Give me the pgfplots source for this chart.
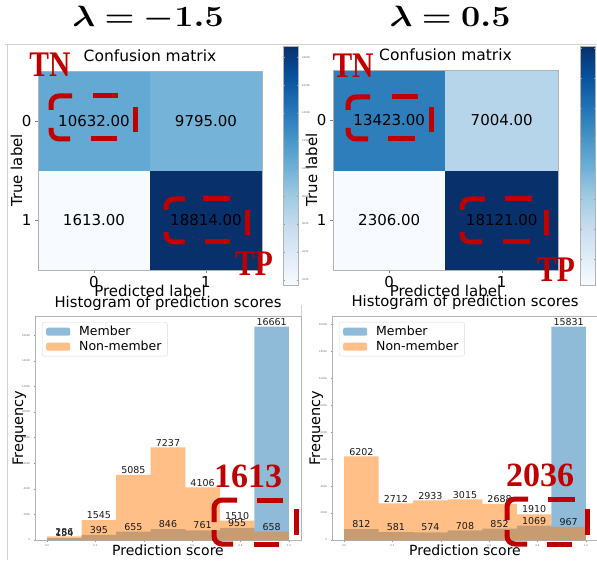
\documentclass[border=0pt]{standalone}
\usepackage{pgfplots}
\pgfplotsset{compat=1.18}
\usepackage{bm}
\usepackage{fontspec}
\setmainfont{DejaVu Sans}
\newfontfamily\annotfont{Liberation Serif}
\definecolor{annred}{RGB}{192,0,0}
\definecolor{mblue}{RGB}{31,119,180}
\definecolor{norange}{RGB}{255,127,14}
\pgfplotsset{
  colormap={mplblues}{rgb255=(247,251,255) rgb255=(222,235,247) rgb255=(198,219,239) rgb255=(158,202,225) rgb255=(107,174,214) rgb255=(66,146,198) rgb255=(33,113,181) rgb255=(8,81,156) rgb255=(8,48,107)},
  cm/.style={
    scale only axis, anchor=south west,
    xmin=-0.5, xmax=1.5, ymin=-0.5, ymax=1.5,
    enlargelimits=false, axis on top,
    xtick={0,1}, ytick={0,1}, xticklabels={0,1}, yticklabels={1,0},
    tick pos=left, tick align=outside, major tick length=3pt,
    tick style={black!50, line width=0.4pt},
    axis line style={black!30, line width=0.8pt},
    ticklabel style={font=\fontsize{15}{15}\selectfont},
    title={Confusion matrix},
    title style={font=\fontsize{15.5}{15.5}\selectfont, at={(0.5,1)}, anchor=base, yshift=3pt},
    xlabel={Predicted label},
    xlabel style={font=\fontsize{15}{15}\selectfont, at={(0.5,0)}, anchor=base, yshift=-27pt},
    ylabel={True label},
    ylabel style={font=\fontsize{15}{15}\selectfont, at={([xshift=-16pt]axis description cs:0,0.5)}, anchor=base},
    colormap name=mplblues,
    colorbar,
  },
  cmbar/.style 2 args={colorbar style={at={(parent axis.north east)}, anchor=north west,
    xshift=#1, yshift=#2, scale only axis, width=15pt, height=239pt,
    ytick={2000,4000,...,18000}, scaled y ticks=false,
    /pgf/number format/set thousands separator={},
    /pgf/number format/assume math mode=true,
    yticklabel style={font=\fontsize{2.5}{3}\selectfont, text=black!60},
    major tick length=1.5pt, tick style={black!40}, axis line style={black!30}}},
  cellnum/.style={only marks, mark=none, point meta=explicit symbolic, nodes near coords,
    nodes near coords style={anchor=center, font=\fontsize{15}{15}\selectfont, text=black}},
  hist/.style={
    scale only axis, anchor=south west, width=266pt, height=224pt,
    xmin=-0.05, xmax=1.05, ymin=0,
    xtick={0,0.2,0.4,0.6,0.8,1.0}, ytick={0,2000,...,16000},
    scaled ticks=false,
    /pgf/number format/assume math mode=true,
    xticklabel style={/pgf/number format/fixed, /pgf/number format/fixed zerofill, /pgf/number format/precision=1},
    /pgf/number format/set thousands separator={},
    ticklabel style={font=\fontsize{2.5}{3}\selectfont, text=black!60},
    tick pos=left, tick align=outside, major tick length=1.5pt, tick style={black!40},
    axis line style={black!30, line width=0.6pt},
    title={Histogram of prediction scores},
    title style={font=\fontsize{14.8}{14.8}\selectfont, at={(0.5,1)}, anchor=base, yshift=3pt},
    xlabel={Prediction score},
    xlabel style={font=\fontsize{14}{14}\selectfont, at={(0.5,0)}, anchor=base, yshift=-15pt},
    ylabel={Frequency},
    ylabel style={font=\fontsize{14.5}{14.5}\selectfont, at={([xshift=-12pt]axis description cs:0,0.5)}, anchor=base},
    legend cell align=left,
    legend style={at={(0,1)}, anchor=north west, xshift=7pt, yshift=-6pt, draw=black!15,
      rounded corners=2pt, font=\fontsize{12.5}{13}\selectfont, inner xsep=4pt, inner ysep=2pt, row sep=0pt},
  },
  barlab/.style={only marks, mark=none, forget plot, point meta=explicit symbolic, nodes near coords,
    nodes near coords style={anchor=south, font=\fontsize{9.5}{9.5}\selectfont, inner sep=1pt, text=black!90}},
}
\newcommand{\annot}[1]{{\annotfont\bfseries\fontsize{36}{36}\selectfont #1}}
\newcommand{\annotnum}[1]{{\annotfont\bfseries\fontsize{34}{34}\selectfont #1}}
\newcommand{\lam}[1]{{\fontsize{24.88}{30}\selectfont $\bm{\lambda = #1}$}}
\newcommand{\legpatch}[1]{\addlegendimage{legend image code/.code={\path[draw=none, fill=none] (0pt,0pt) -- (31pt,0pt); \path[draw=none, fill=#1!50!white] (0pt,-4pt) rectangle (24pt,4pt);}}}
\begin{document}
\begin{tikzpicture}
\path[use as bounding box] (0,0) rectangle (597pt,560pt);
% panel frames and titles
\draw[black!18, line width=0.8pt] (5pt,516pt) -- (597pt,516pt);
\draw[black!18, line width=0.8pt] (7pt,516pt) -- (7pt,0pt);
\draw[black!18, line width=0.8pt] (301pt,255pt) -- (301pt,20pt);
\node[anchor=base, xscale=1.37, yscale=1.18] at (148pt,533pt) {\lam{-1.5}};
\node[anchor=base, xscale=1.37, yscale=1.18] at (450pt,533pt) {\lam{0.5}};

% ---------- left confusion matrix ----------
\begin{axis}[cm, at={(38pt,290pt)}, width=224pt, height=199pt, cmbar={13pt}{25pt}]
\addplot[matrix plot*, mesh/cols=2, mesh/rows=2, point meta=explicit] table[meta=c] {
x y c
0 0 1613
1 0 18814
0 1 10632
1 1 9795
};
\addplot[cellnum] coordinates {(0,1)[10632.00] (1,1)[9795.00] (0,0)[1613.00] (1,0)[18814.00]};
\end{axis}

% ---------- right confusion matrix ----------
\begin{axis}[cm, at={(333pt,290pt)}, width=225pt, height=200pt, cmbar={14pt}{24pt}]
\addplot[matrix plot*, mesh/cols=2, mesh/rows=2, point meta=explicit] table[meta=c] {
x y c
0 0 2306
1 0 18121
0 1 13423
1 1 7004
};
\addplot[cellnum] coordinates {(0,1)[13423.00] (1,1)[7004.00] (0,0)[2306.00] (1,0)[18121.00]};
\end{axis}

% ---------- left histogram ----------
\begin{axis}[hist, at={(35pt,20pt)}, ymax=17494]
\addplot[ybar interval, fill=mblue, fill opacity=0.5, draw=none, forget plot] coordinates {
(0,154) (0.142857,395) (0.285714,655) (0.428571,846) (0.571429,761) (0.714286,955) (0.857143,16661) (1,16661)};
\addplot[ybar interval, fill=norange, fill opacity=0.5, draw=none, forget plot] coordinates {
(0,286) (0.142857,1545) (0.285714,5085) (0.428571,7237) (0.571429,4106) (0.714286,1510) (0.857143,658) (1,658)};
\addplot[barlab] coordinates {(0.071429,154)[154] (0.214286,395)[395] (0.357143,655)[655] (0.5,846)[846] (0.642857,761)[761] (0.785714,955)[955] (0.928571,16661)[16661]};
\addplot[barlab] coordinates {(0.071429,286)[286] (0.214286,1545)[1545] (0.357143,5085)[5085] (0.5,7237)[7237] (0.642857,4106)[4106] (0.785714,1510)[1510] (0.928571,658)[658]};
\legpatch{mblue}
\addlegendentry{Member}
\legpatch{norange}
\addlegendentry{Non-member}
\end{axis}

% ---------- right histogram ----------
\begin{axis}[hist, at={(332pt,20pt)}, ymax=16622]
\addplot[ybar interval, fill=mblue, fill opacity=0.5, draw=none, forget plot] coordinates {
(0,812) (0.142857,581) (0.285714,574) (0.428571,708) (0.571429,852) (0.714286,1069) (0.857143,15831) (1,15831)};
\addplot[ybar interval, fill=norange, fill opacity=0.5, draw=none, forget plot] coordinates {
(0,6202) (0.142857,2712) (0.285714,2933) (0.428571,3015) (0.571429,2688) (0.714286,1910) (0.857143,967) (1,967)};
\addplot[barlab] coordinates {(0.071429,812)[812] (0.214286,581)[581] (0.357143,574)[574] (0.5,708)[708] (0.642857,852)[852] (0.785714,1069)[1069] (0.928571,15831)[15831]};
\addplot[barlab] coordinates {(0.071429,6202)[6202] (0.214286,2712)[2712] (0.357143,2933)[2933] (0.5,3015)[3015] (0.642857,2688)[2688] (0.785714,1910)[1910] (0.928571,967)[967]};
\legpatch{mblue}
\addlegendentry{Member}
\legpatch{norange}
\addlegendentry{Non-member}
\end{axis}

% ---------- red annotations (pixel coordinates, y downward) ----------
\begin{scope}[x=1pt, y=-1pt, yshift=560pt]
\begin{scope}[draw=annred, line width=5pt, rounded corners=8pt]
% left TN
\draw (72,96) -- (51,96) -- (51,110);
\draw (93,96) -- (118,96);
\draw (135,107) -- (135,132);
\draw (91,139) -- (117,139);
\draw (51,128) -- (51,139) -- (70,139);
% left TP
\draw (185,199) -- (166,199) -- (166,210);
\draw (203,199) -- (230,199);
\draw (247,210) -- (247,235);
\draw (205,242) -- (230,242);
\draw (166,232) -- (166,242) -- (185,242);
% right TN
\draw (370,97) -- (348,97) -- (348,110);
\draw (392,97) -- (418,97);
\draw (431,107) -- (431,132);
\draw (388,139) -- (415,139);
\draw (348,128) -- (348,139) -- (368,139);
% right TP
\draw (485,199) -- (462,199) -- (462,210);
\draw (505,199) -- (532,199);
\draw (546,210) -- (546,235);
\draw (503,242) -- (530,242);
\draw (462,232) -- (462,242) -- (482,242);
% left hist
\draw (237,500) -- (214,500) -- (214,522);
\draw (257,500) -- (283,500);
\draw (296,509) -- (296,535);
\draw (254,544) -- (279,544);
\draw (214,530) -- (214,544) -- (233,544);
% right hist
\draw (528,499) -- (507,499) -- (507,520);
\draw (548,499) -- (575,499);
\draw (587,509) -- (587,535);
\draw (547,544) -- (572,544);
\draw (507,530) -- (507,544) -- (527,544);
\end{scope}
\node[xscale=0.82, text=annred] at (50,65) {\annot{TN}};
\node[xscale=0.82, text=annred] at (254,264) {\annot{TP}};
\node[xscale=0.82, text=annred] at (353,66) {\annot{TN}};
\node[xscale=0.82, text=annred] at (556,270) {\annot{TP}};
\node[text=annred] at (248,476) {\annotnum{1613}};
\node[text=annred] at (540,475) {\annotnum{2036}};
\end{scope}
\end{tikzpicture}
\end{document}
